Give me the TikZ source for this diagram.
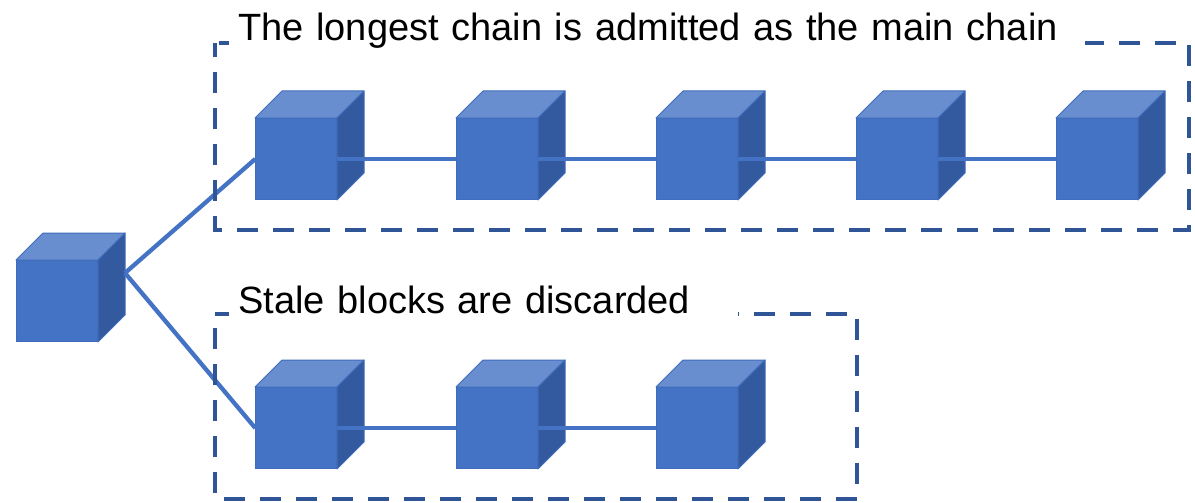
\documentclass[tikz,border=0pt]{standalone}
\usepackage{fontspec}
\setmainfont{Liberation Sans}
\definecolor{frontc}{HTML}{4472C4}
\definecolor{topc}{HTML}{698ED0}
\definecolor{sidec}{HTML}{335A9E}
\definecolor{edgec}{HTML}{3F6CBB}
\definecolor{boxc}{HTML}{2F5597}
\tikzset{
  x=1pt,y=-1pt,
  front/.style={fill=frontc,draw=edgec,line width=1pt,minimum width=81.5pt,minimum height=81.5pt,inner sep=0pt,outer sep=0pt},
  topface/.style={fill=topc,draw=edgec,line width=1pt,line join=round},
  sideface/.style={fill=sidec,draw=edgec,line width=1pt,line join=round},
  link/.style={draw=frontc,line width=4.3pt},
  groupbox/.style={draw=boxc,line width=4.4pt,dash pattern=on 21pt off 15pt},
  caption/.style={fill=white,inner ysep=0pt,inner xsep=9pt,align=left,font=\fontsize{38}{42}\selectfont,anchor=west,minimum height=38pt,text depth=0pt}
}
% #1 name, #2 front-left x, #3 front-top y
\newcommand{\blockcube}[3]{%
  \draw[topface] (#2,#3) -- ++(27,-27) -- ++(82,0) -- ++(-27,27) -- cycle;
  \draw[sideface] (#2+82,#3) -- ++(27,-27) -- ++(0,82) -- ++(-27,27) -- cycle;
  \node[front] (#1) at (#2+41,#3+41) {};
}
\begin{document}
\begin{tikzpicture}
\useasboundingbox (0,0) rectangle (1195,503);
\fill[white] (0,0) rectangle (1195,503);
% blocks
\blockcube{root}{16}{260}
\coordinate (rootside) at (125,273);
\blockcube{a}{255}{118}
\blockcube{b}{456}{118}
\blockcube{c}{656}{118}
\blockcube{d}{856}{118}
\blockcube{e}{1056}{118}
\blockcube{p}{255}{387}
\blockcube{q}{456}{387}
\blockcube{r}{656}{387}
% connectors
\draw[link] (rootside) -- (a.west);
\draw[link] (rootside) -- (p.west);
\draw[link] (a.east) -- (b.west);
\draw[link] (b.east) -- (c.west);
\draw[link] (c.east) -- (d.west);
\draw[link] (d.east) -- (e.west);
\draw[link] (p.east) -- (q.west);
\draw[link] (q.east) -- (r.west);
% groups
\draw[groupbox,dash phase=7pt] (215,43) -- (215,230) -- (1189,230) -- (1189,43) -- (215,43);
\draw[groupbox,dash phase=22pt] (215,314) -- (215,499) -- (857,499) -- (857,314) -- (215,314);
% captions
\node[caption,text width=838pt] (main) at (229,27) {The longest chain is admitted as the main chain};
\node[caption,text width=491pt] (stale) at (229,300) {Stale blocks are discarded};
\end{tikzpicture}
\end{document}
